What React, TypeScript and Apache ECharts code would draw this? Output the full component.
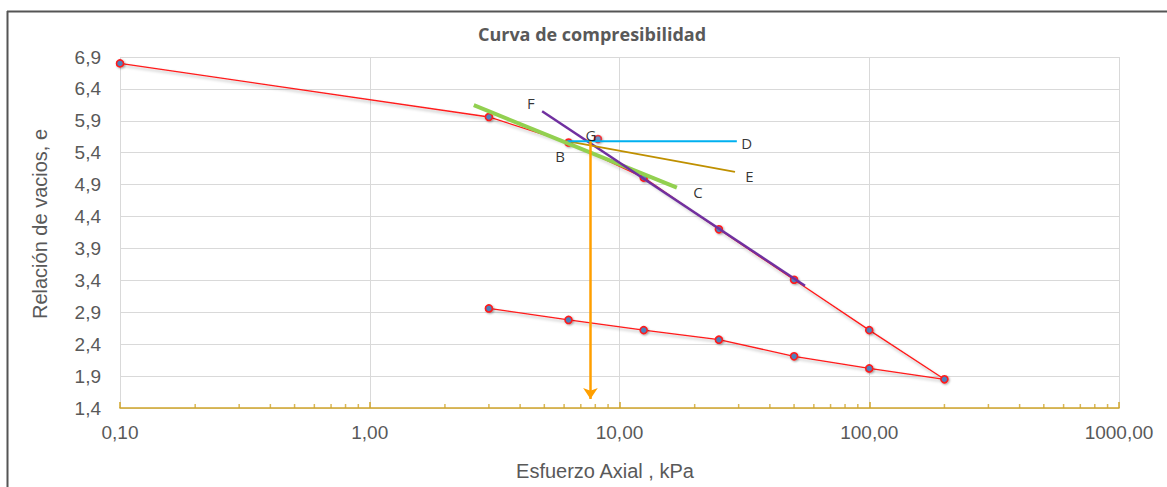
import React, { useEffect, useRef } from "react";
import * as echarts from "echarts";

// Curva de compresibilidad (carga y descarga)
const ESFUERZO = [0.1, 3, 6.25, 12.5, 25, 50, 100, 200, 100, 50, 25, 12.5, 6.25, 3];
const RELACION = [6.8, 5.96, 5.56, 5.01, 4.2, 3.41, 2.62, 1.85, 2.02, 2.21, 2.47, 2.62, 2.78, 2.96];

// Construcción de Casagrande
const LINEA_C_X = [2.61, 16.97];
const LINEA_C_Y = [6.145, 4.853];
const LINEA_F_X = [4.9, 55.3];
const LINEA_F_Y = [6.05, 3.315];
const LINEA_D_X = [6.25, 29.5];
const LINEA_D_Y = [5.58, 5.58];
const LINEA_E_X = [6.4, 29];
const LINEA_E_Y = [5.57, 5.1];
const PRECONS_X = [7.65, 7.65];
const PRECONS_Y = [5.58, 1.54];
const PUNTO_G_X = [8.2];
const PUNTO_G_Y = [5.615];

const ETIQUETAS = ["F", "G", "B", "D", "E", "C"];
const ETIQ_X = [4.42, 7.69, 5.78, 32.3, 33.1, 20.6];
const ETIQ_Y = [6.18, 5.68, 5.35, 5.56, 5.03, 4.79];

const MINOR_TICKS = [
  0.2, 0.3, 0.4, 0.5, 0.6, 0.7, 0.8, 0.9,
  2, 3, 4, 5, 6, 7, 8, 9,
  20, 30, 40, 50, 60, 70, 80, 90,
  200, 300, 400, 500, 600, 700, 800, 900,
];

const Y_MIN = 1.4;
const Y_MAX = 6.9;
const Y_STEP = 0.5;

const GOLD = "#d0a52a";
const GRAY_TEXT = "#595959";
const FONT = "Liberation Sans";

const pairs = (xs: number[], ys: number[]) => xs.map((x, i) => [x, ys[i]]);

export default function App() {
  const ref = useRef<HTMLDivElement>(null);

  useEffect(() => {
    document.body.style.margin = "0";
    if (!ref.current) return;
    const chart = echarts.init(ref.current, null, { renderer: "svg" });

    const markerStyle = {
      color: "#4f81bd",
      borderColor: "#ff1a1a",
      borderWidth: 1.6,
      shadowColor: "rgba(0,0,0,0.35)",
      shadowBlur: 2,
      shadowOffsetX: 1,
      shadowOffsetY: 1,
    };

    const segment = (name: string, xs: number[], ys: number[], color: string, width: number, z: number) => ({
      name,
      type: "line",
      data: pairs(xs, ys),
      showSymbol: false,
      symbol: "none",
      lineStyle: { color, width, cap: "butt" },
      z,
      silent: true,
    });

    chart.setOption({
      animation: false,
      backgroundColor: "#ffffff",
      grid: { left: 120, right: 48, top: 57, bottom: 79 },
      xAxis: {
        type: "log",
        logBase: 10,
        min: 0.1,
        max: 1000,
        axisLine: { onZero: false, lineStyle: { color: GOLD, width: 1.6 } },
        axisTick: { inside: true, length: 6, lineStyle: { color: GOLD, width: 1.5 } },
        axisLabel: {
          formatter: (v: number) => v.toFixed(2).replace(".", ","),
          color: GRAY_TEXT,
          fontSize: 19,
          fontFamily: FONT,
          margin: 15,
        },
        splitLine: { show: true, lineStyle: { color: "#d9d9d9", width: 1 } },
      },
      yAxis: {
        type: "value",
        min: Y_MIN,
        max: Y_MAX,
        interval: Y_STEP,
        axisLine: { show: false },
        axisTick: { show: false },
        axisLabel: {
          formatter: (v: number) => v.toFixed(1).replace(".", ","),
          color: GRAY_TEXT,
          fontSize: 19,
          fontFamily: FONT,
          margin: 19,
        },
        splitLine: { show: true, lineStyle: { color: "#d9d9d9", width: 1 } },
      },
      graphic: [
        { type: "line", shape: { x1: 7, y1: 11.5, x2: 1167, y2: 11.5 }, style: { stroke: "#555555", lineWidth: 2 }, silent: true },
        { type: "line", shape: { x1: 7.5, y1: 11, x2: 7.5, y2: 487 }, style: { stroke: "#555555", lineWidth: 2 }, silent: true },
        {
          type: "text",
          x: 592,
          y: 34,
          style: {
            text: "Curva de compresibilidad",
            fontFamily: "Open Sans",
            fontWeight: "bold",
            fontSize: 18,
            fill: GRAY_TEXT,
            align: "center",
            verticalAlign: "middle",
          },
          silent: true,
        },
        {
          type: "text",
          x: 605,
          y: 471,
          style: {
            text: "Esfuerzo Axial , kPa",
            fontFamily: FONT,
            fontSize: 20,
            fill: GRAY_TEXT,
            align: "center",
            verticalAlign: "middle",
          },
          silent: true,
        },
        {
          type: "text",
          x: 40,
          y: 224,
          rotation: Math.PI / 2,
          style: {
            text: "Relación de vacios, e",
            fontFamily: FONT,
            fontSize: 20,
            fill: GRAY_TEXT,
            align: "center",
            verticalAlign: "middle",
          },
          silent: true,
        },
      ],
      series: [
        {
          name: "Curva",
          type: "line",
          data: pairs(ESFUERZO, RELACION),
          symbol: "circle",
          symbolSize: 7,
          showAllSymbol: true,
          itemStyle: markerStyle,
          lineStyle: {
            color: "#ff1a1a",
            width: 1.3,
            shadowColor: "rgba(0,0,0,0.3)",
            shadowBlur: 3,
            shadowOffsetX: 1,
            shadowOffsetY: 2,
          },
          z: 2,
        },
        {
          name: "G",
          type: "scatter",
          data: pairs(PUNTO_G_X, PUNTO_G_Y),
          symbol: "circle",
          symbolSize: 7,
          itemStyle: markerStyle,
          z: 2,
        },
        {
          name: "MinorTicks",
          type: "scatter",
          data: MINOR_TICKS.map((x) => [x, Y_MIN]),
          symbol: "rect",
          symbolSize: [1.5, 4],
          symbolOffset: [0, -2],
          itemStyle: { color: GOLD },
          clip: false,
          silent: true,
          z: 3,
        },
        segment("BC", LINEA_C_X, LINEA_C_Y, "#92d050", 4, 4),
        segment("F", LINEA_F_X, LINEA_F_Y, "#7030a0", 2.5, 5),
        segment("BE", LINEA_E_X, LINEA_E_Y, "#bf9000", 2, 6),
        segment("BD", LINEA_D_X, LINEA_D_Y, "#00b0f0", 2, 7),
        {
          name: "Preconsolidación",
          type: "lines",
          coordinateSystem: "cartesian2d",
          data: [{ coords: pairs(PRECONS_X, PRECONS_Y) }],
          symbol: ["none", "arrow"],
          symbolSize: [9, 11],
          lineStyle: { color: "#ff9f00", width: 2.5, opacity: 1 },
          z: 8,
          silent: true,
        },
        {
          name: "Etiquetas",
          type: "scatter",
          data: ETIQUETAS.map((t, i) => [ETIQ_X[i], ETIQ_Y[i], t]),
          symbolSize: 0,
          itemStyle: { color: "transparent" },
          label: {
            show: true,
            position: "inside",
            formatter: (p: any) => p.data[2],
            color: "#000000",
            fontFamily: "Open Sans",
            fontSize: 15,
          },
          z: 9,
          silent: true,
        },
      ],
    });

    return () => chart.dispose();
  }, []);

  return <div ref={ref} style={{ width: 1167, height: 487 }} />;
}
